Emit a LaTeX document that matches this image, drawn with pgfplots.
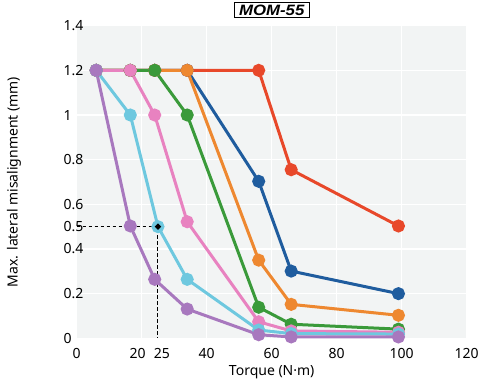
\documentclass[border=0pt]{standalone}
\usepackage{fontspec}
\setmainfont{Noto Sans}
\newfontfamily\titlefont[FakeStretch=1.12]{Liberation Sans}
\usepackage{pgfplots}
\pgfplotsset{compat=1.18}
\definecolor{cred}{HTML}{E8482A}
\definecolor{cblue}{HTML}{1F5C9E}
\definecolor{corange}{HTML}{EE8830}
\definecolor{cgreen}{HTML}{3A9A3A}
\definecolor{cpink}{HTML}{E882C0}
\definecolor{ccyan}{HTML}{6EC8DF}
\definecolor{cpurple}{HTML}{A878BE}
\definecolor{cbg}{HTML}{F2F4F4}
\begin{document}
\begin{tikzpicture}
\path[use as bounding box] (0,0) rectangle (480pt,382pt);
\begin{axis}[
  at={(76.7pt,43.7pt)}, anchor=south west,
  scale only axis, width=390pt, height=312.6pt,
  xmin=0, xmax=120, ymin=0, ymax=1.4,
  axis line style={draw=none},
  axis background/.style={fill=cbg},
  major tick length=0pt,
  grid=major,
  major grid style={white, line width=1.4pt},
  xtick={0,20,40,60,80,100,120},
  xticklabels={0,{\hspace*{-8pt}20},40,60,80,100,120},
  extra x ticks={25},
  extra x tick labels={{\hspace*{8pt}25}},
  ytick={0,0.2,0.4,0.6,0.8,1,1.2,1.4},
  yticklabels={0,0.2,0.4,0.6,0.8,1,1.2,1.4},
  extra y ticks={0.5},
  extra y tick labels={0.5},
  extra tick style={grid=none},
  ticklabel style={font=\fontsize{14}{16}\selectfont, inner sep=0pt},
  xticklabel style={anchor=north, yshift=-9.7pt},
  yticklabel style={anchor=west, xshift=-13.35pt},
  /pgf/number format/assume math mode=true,
  xlabel={Torque (N·m)},
  ylabel={Max. lateral misalignment (mm)},
  label style={font=\fontsize{14}{16}\selectfont},
  xlabel style={at={(axis description cs:0.5,0)}, anchor=center, yshift=-33.7pt},
  every axis y label/.style={at={(axis description cs:0,0.5)}, anchor=center, rotate=90, yshift=62.7pt, font=\fontsize{14}{16}\selectfont},
  title={MOM-55},
  title style={at={(axis description cs:0.5,1)}, anchor=center, yshift=9.7pt,
    font=\fontsize{15}{17}\selectfont\titlefont\bfseries\itshape, draw=black, line width=1.3pt, fill=white,
    inner sep=0pt, minimum width=75pt, minimum height=14.5pt},
  every axis plot/.append style={line width=3pt, mark=*, mark size=5pt, mark options={solid}},
]
\addplot[cred, mark options={fill=cred, draw=cred}] coordinates {(6,1.2)(16.5,1.2)(24,1.2)(34,1.2)(56,1.2)(66,0.755)(99,0.503)};
\addplot[cblue, mark options={fill=cblue, draw=cblue}] coordinates {(6,1.2)(16.5,1.2)(24,1.2)(34,1.2)(56,0.703)(66,0.301)(99,0.2)};
\addplot[corange, mark options={fill=corange, draw=corange}] coordinates {(6,1.2)(16.5,1.2)(24,1.2)(34,1.2)(56,0.35)(66,0.152)(99,0.103)};
\addplot[cgreen, mark options={fill=cgreen, draw=cgreen}] coordinates {(6,1.2)(16.5,1.2)(24,1.2)(34,1.0)(56,0.139)(66,0.063)(99,0.041)};
\addplot[cpink, mark options={fill=cpink, draw=cpink}] coordinates {(6,1.2)(16.5,1.2)(24,1.0)(34,0.522)(56,0.074)(66,0.033)(99,0.027)};
\addplot[ccyan, mark options={fill=ccyan, draw=ccyan}] coordinates {(6,1.2)(16.5,1.0)(25,0.5)(34,0.264)(56,0.037)(66,0.021)(99,0.019)};
\addplot[cpurple, mark options={fill=cpurple, draw=cpurple}] coordinates {(6,1.2)(16.5,0.503)(24,0.264)(34,0.131)(56,0.016)(66,0.006)(99,0.006)};
\addplot[black, line width=1pt, dash pattern=on 3.5pt off 2.5pt, mark=none] coordinates {(0,0.5)(25,0.5)(25,0)};
\addplot[black, only marks, mark=*, mark size=1.1pt] coordinates {(25,0.5)};
\end{axis}
\end{tikzpicture}
\end{document}
